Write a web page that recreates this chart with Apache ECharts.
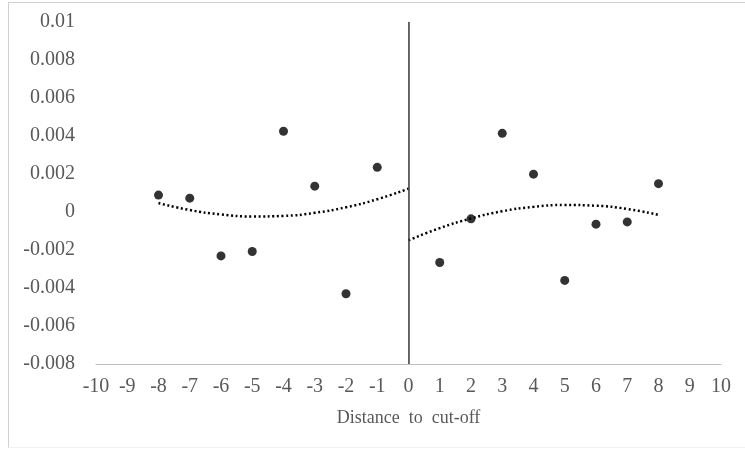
<!DOCTYPE html>
<html>
<head>
<meta charset="utf-8">
<script src="https://cdn.jsdelivr.net/npm/echarts@6/dist/echarts.min.js"></script>
<style>
html,body{margin:0;padding:0;background:#fff;}
#frame{position:absolute;left:8px;top:2px;width:745px;height:446px;border-left:1px solid #d0d0d0;border-top:1px solid #d0d0d0;border-bottom:1px solid #f0f0f0;box-sizing:border-box;}
#chart{position:absolute;left:0;top:0;width:745px;height:451px;}
</style>
</head>
<body>
<div id="frame"></div>
<div id="chart"></div>
<script>
// Scatter data (distance to cut-off, value)
const leftX = [-8, -7, -6, -5, -4, -3, -2, -1];
const leftY = [0.00089, 0.00073, -0.00231, -0.00208, 0.00425, 0.00136, -0.0043, 0.00235];
const rightX = [1, 2, 3, 4, 5, 6, 7, 8];
const rightY = [-0.00266, -0.00036, 0.00414, 0.00199, -0.0036, -0.00064, -0.00052, 0.00149];
// Dotted trend lines
const trendLeftX = [-8, -7, -6, -5, -4, -3, -2, -1, 0];
const trendLeftY = [0.00047, 0.000105, -0.00013, -0.000234, -0.000205, -0.000044, 0.00025, 0.00067, 0.00123];
const trendRightX = [0, 1, 2, 3, 4, 5, 6, 7, 8];
const trendRightY = [-0.00149, -0.00085, -0.00034, 0.00004, 0.00027, 0.00037, 0.00033, 0.00016, -0.00015];
const xTicks = [-10, -9, -8, -7, -6, -5, -4, -3, -2, -1, 0, 1, 2, 3, 4, 5, 6, 7, 8, 9, 10];
const yTicks = [-0.008, -0.006, -0.004, -0.002, 0, 0.002, 0.004, 0.006, 0.008, 0.01];

const zip = (a, b) => a.map((v, i) => [v, b[i]]);
const font = '"Liberation Serif", "Times New Roman", serif';
const chart = echarts.init(document.getElementById('chart'), null, {renderer: 'canvas'});
chart.setOption({
  animation: false,
  grid: {left: 96, right: 24, top: 22, bottom: 87},
  xAxis: {
    type: 'value', min: -10, max: 10, interval: 1,
    name: 'Distance  to  cut-off', nameLocation: 'middle', nameGap: 45,
    nameTextStyle: {fontFamily: font, fontSize: 18, color: '#595959'},
    axisLine: {onZero: false, lineStyle: {color: '#bfbfbf', width: 1}},
    axisTick: {show: false},
    splitLine: {show: false},
    axisLabel: {fontFamily: font, fontSize: 20, color: '#595959', margin: 13}
  },
  yAxis: {
    type: 'value', min: -0.008, max: 0.01, interval: 0.002,
    axisLine: {show: true, lineStyle: {color: '#bfbfbf', width: 1}},
    axisTick: {show: false},
    splitLine: {show: false},
    axisLabel: {fontFamily: font, fontSize: 20, color: '#595959', margin: 21, padding: [4, 0, 0, 0],
      formatter: v => { const t = yTicks.find(k => Math.abs(k - v) < 1e-9); return String(t !== undefined ? t : v); }}
  },
  series: [
    {type: 'line', data: zip(trendLeftX, trendLeftY), smooth: 0.5, symbol: 'none',
     lineStyle: {color: '#000', width: 2.5, type: [2, 2.6]}, z: 2,
     markLine: {silent: true, symbol: 'none', label: {show: false},
       lineStyle: {color: '#404040', width: 1.5, type: 'solid'},
       data: [[{coord: [0, 0.01]}, {coord: [0, -0.008]}]]}},
    {type: 'line', data: zip(trendRightX, trendRightY), smooth: 0.5, symbol: 'none',
     lineStyle: {color: '#000', width: 2.5, type: [2, 2.6]}, z: 2},
    {type: 'scatter', data: zip(leftX, leftY), symbol: 'circle', symbolSize: 9,
     itemStyle: {color: '#000'}, z: 3},
    {type: 'scatter', data: zip(rightX, rightY), symbol: 'circle', symbolSize: 9,
     itemStyle: {color: '#000'}, z: 3}
  ]
});
</script>
</body>
</html>
